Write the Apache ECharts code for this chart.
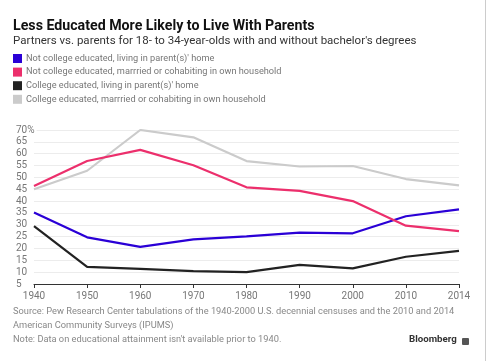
<!DOCTYPE html>
<html>
<head>
<meta charset="utf-8">
<script src="https://cdn.jsdelivr.net/npm/echarts@6/dist/echarts.min.js"></script>
<style>html,body{margin:0;padding:0;background:#fff;}#c{width:488px;height:361px;}</style>
</head>
<body>
<div id="c"></div>
<script>
const years = ['1940','1950','1960','1970','1980','1990','2000','2010','2014'];
const notCollegeParents = [35.2, 24.7, 20.7, 23.8, 25.1, 26.7, 26.4, 33.6, 36.5];
const notCollegeOwn = [46.4, 56.9, 61.6, 55.1, 45.8, 44.3, 40.0, 29.6, 27.3];
const collegeParents = [29.4, 12.2, 11.4, 10.4, 10.0, 13.1, 11.6, 16.5, 19.0];
const collegeOwn = [45.0, 52.8, 70.0, 66.9, 56.9, 54.6, 54.8, 49.3, 46.6];
const seriesNames = [
  "Not college educated, living in parent(s)' home",
  "Not college educated, marrried or cohabiting in own household",
  "College educated, living in parent(s)' home",
  "College educated, marrried or cohabiting in own household"
];
const colors = ['#2a00d6', '#ec2f6c', '#222222', '#cbcbcb'];
const yTicks = {min: 5, max: 70, interval: 5};

const font = 'Roboto, "Liberation Sans", sans-serif';
const chart = echarts.init(document.getElementById('c'), null, {renderer: 'canvas'});
const data = [notCollegeParents, notCollegeOwn, collegeParents, collegeOwn];
chart.setOption({
  animation: false,
  backgroundColor: '#fff',
  color: colors,
  title: [
    {text: 'Less Educated More Likely to Live With Parents', left: 8, top: 14,
     textStyle: {fontFamily: font, fontSize: 14.2, fontWeight: 'bold', color: '#111'}},
    {text: "Partners vs. parents for 18- to 34-year-olds with and without bachelor's degrees", left: 8, top: 30,
     textStyle: {fontFamily: font, fontSize: 11.5, fontWeight: 'normal', color: '#333'}}
  ],
  legend: {
    orient: 'vertical', left: 8, top: 49, itemWidth: 9, itemHeight: 9, itemGap: 4.6,
    icon: 'rect', selectedMode: false,
    textStyle: {fontFamily: font, fontSize: 9.2, color: '#777', padding: [0,0,0,-1]},
    data: seriesNames
  },
  grid: {left: 34, right: 29, top: 130, bottom: 77, containLabel: false},
  xAxis: {
    type: 'category', data: years, boundaryGap: false,
    axisLine: {lineStyle: {color: '#333', width: 1}},
    axisTick: {show: true, length: 4, lineStyle: {color: '#333'}, alignWithLabel: true},
    axisLabel: {fontFamily: font, fontSize: 10, color: '#777', margin: 7}
  },
  yAxis: {
    type: 'value', min: yTicks.min, max: yTicks.max, interval: yTicks.interval,
    axisLine: {show: false}, axisTick: {show: false},
    splitLine: {lineStyle: {color: '#ececec', width: 1}},
    axisLabel: {fontFamily: font, fontSize: 10, color: '#777', align: 'left', margin: 18,
      backgroundColor: '#fff', padding: [0, 2, 0, 0],
      formatter: v => v === 70 ? '70%' : String(v)}
  },
  series: data.map((d, i) => ({
    name: seriesNames[i], type: 'line', data: d, symbol: 'none',
    lineStyle: {width: 2.2, color: colors[i]}, z: i === 3 ? 1 : 2 + i
  })),
  graphic: [
    {type: 'text', left: 13, top: 307, style: {text: 'Source: Pew Research Center tabulations of the 1940-2000 U.S. decennial censuses and the 2010 and 2014', fontFamily: font, fontSize: 9.27, fill: '#888'}},
    {type: 'text', left: 13, top: 321, style: {text: 'American Community Surveys (IPUMS)', fontFamily: font, fontSize: 9.27, fill: '#888'}},
    {type: 'text', left: 13, top: 335, style: {text: "Note: Data on educational attainment isn't available prior to 1940.", fontFamily: font, fontSize: 9.27, fill: '#888'}},
    {type: 'text', left: 409, top: 335, style: {text: 'Bloomberg', fontFamily: font, fontSize: 9.7, fontWeight: 'bold', fill: '#333'}},
    {type: 'rect', left: 462, top: 338, shape: {width: 7, height: 7, r: 1}, style: {fill: '#555'}},
    {type: 'line', shape: {x1: 485.5, y1: 0, x2: 485.5, y2: 361}, style: {stroke: '#ccc', lineWidth: 1}}
  ]
});
</script>
</body>
</html>
